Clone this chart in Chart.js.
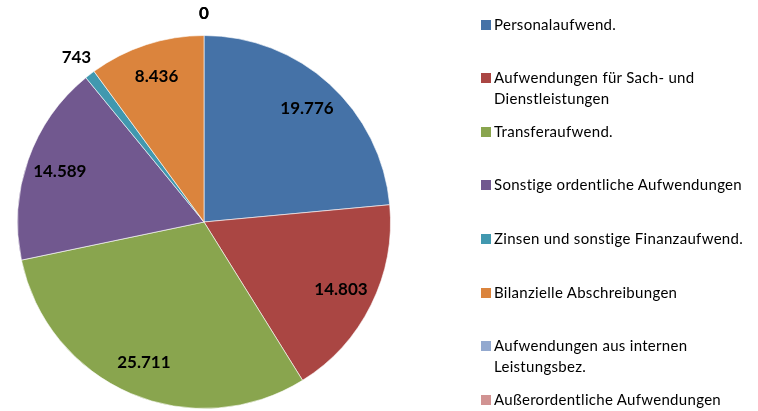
<!DOCTYPE html>
<html>
<head>
<meta charset="utf-8">
<script src="https://cdn.jsdelivr.net/npm/chart.js@4.4.1/dist/chart.umd.min.js"></script>
<style>
    html, body { margin: 0; padding: 0; background: #fff; }
    #wrap { position: relative; width: 758px; height: 411px; overflow: hidden; }
    #pie { position: absolute; left: 0; top: 0; }
    .legend-item { position: absolute; left: 481px; font-family: Lato, "Open Sans", sans-serif; font-size: 15px; letter-spacing: 0.3px; color: #000; line-height: 21px; }
    .legend-item .box { position: absolute; left: 0; top: 6px; width: 10px; height: 10px; }
    .legend-item .text { margin-left: 13px; white-space: nowrap; }
</style>
</head>
<body>
<div id="wrap">
    <canvas id="pie" width="758" height="411"></canvas>
    <div id="legend"></div>
</div>
<script>
// Categories (legend lines split where the original wraps)
const categories = [
    ["Personalaufwend."],
    ["Aufwendungen für Sach- und", "Dienstleistungen"],
    ["Transferaufwend."],
    ["Sonstige ordentliche Aufwendungen"],
    ["Zinsen und sonstige Finanzaufwend."],
    ["Bilanzielle Abschreibungen"],
    ["Aufwendungen aus internen", "Leistungsbez."],
    ["Außerordentliche Aufwendungen"]
];
const values = [19776, 14803, 25711, 14589, 743, 8436, 0, 0];
const colors = ["#4572A7", "#AA4643", "#89A54E", "#71588F", "#4198AF", "#DB843D", "#93A9CF", "#D19392"];

// German number format: 19.776
function formatValue(v) {
    return v.toLocaleString("de-DE");
}

// Draw value labels: inside for big slices, outside for small ones
const valueLabels = {
    id: "valueLabels",
    afterDatasetsDraw(chart) {
        const ctx = chart.ctx;
        const meta = chart.getDatasetMeta(0);
        const total = values.reduce((a, b) => a + b, 0);
        ctx.save();
        ctx.font = "bold 17px Lato, 'Open Sans', sans-serif";
        ctx.fillStyle = "#000";
        ctx.textAlign = "center";
        ctx.textBaseline = "middle";
        meta.data.forEach((arc, i) => {
            const p = arc.getProps(["x", "y", "startAngle", "endAngle", "outerRadius"], true);
            const mid = (p.startAngle + p.endAngle) / 2;
            const share = values[i] / total;
            const r = share < 0.03 ? p.outerRadius + 22 : p.outerRadius * 0.82;
            const x = p.x + Math.cos(mid) * r;
            const y = p.y + Math.sin(mid) * r;
            ctx.fillText(formatValue(values[i]), x, y);
        });
        ctx.restore();
    }
};

const ctx = document.getElementById("pie").getContext("2d");
new Chart(ctx, {
    type: "pie",
    data: {
        labels: categories.map(c => c.join(" ")),
        datasets: [{
            data: values,
            backgroundColor: colors,
            borderColor: "rgba(255,255,255,0.6)",
            borderWidth: 1
        }]
    },
    options: {
        responsive: false,
        animation: false,
        layout: { padding: { left: 17, top: 35, right: 367, bottom: 2 } },
        plugins: {
            legend: { display: false },
            tooltip: { enabled: false }
        }
    },
    plugins: [valueLabels]
});

// HTML legend built from the same arrays
const legend = document.getElementById("legend");
categories.forEach((lines, i) => {
    const item = document.createElement("div");
    item.classList.add("legend-item");
    item.style.top = (13.5 + i * 53.6) + "px";

    const box = document.createElement("span");
    box.classList.add("box");
    box.style.background = colors[i];

    const text = document.createElement("div");
    text.classList.add("text");
    text.innerHTML = lines.join("<br>");

    item.appendChild(box);
    item.appendChild(text);
    legend.appendChild(item);
});
</script>
</body>
</html>
